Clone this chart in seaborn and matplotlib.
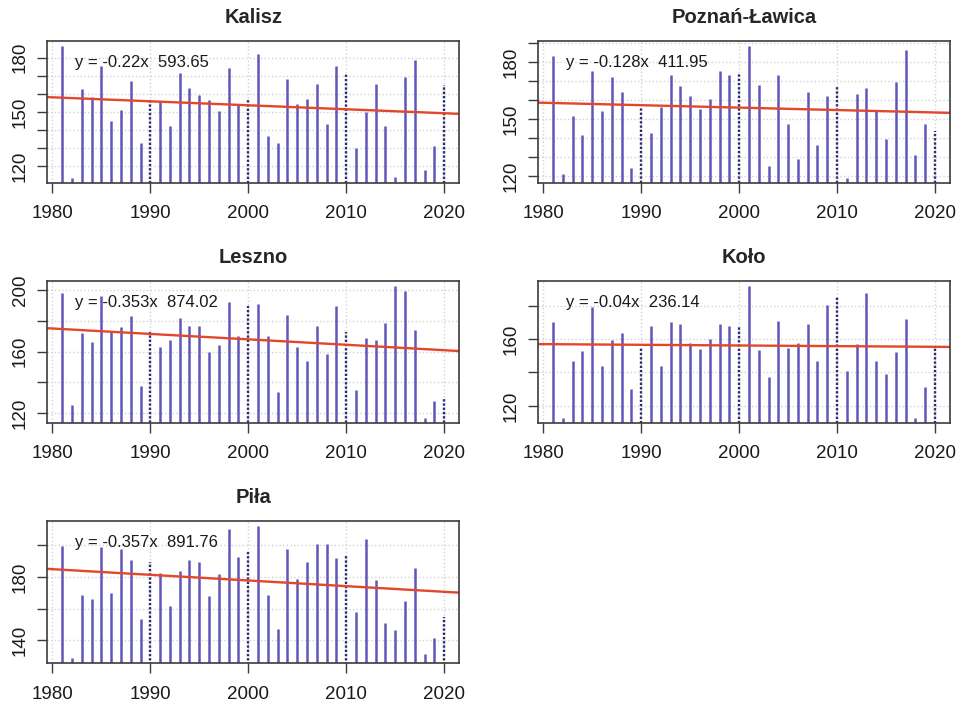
import numpy as np
import pandas as pd
import matplotlib.pyplot as plt
import seaborn as sns

# Yearly values, 1981-2020
years = list(range(1981, 2021))

stations = ['Kalisz', 'Poznań-Ławica', 'Leszno', 'Koło', 'Piła']

kalisz = [186.4, 113.7, 162.5, 158.1, 175.4, 145.2, 151.1, 167.3, 132.9, 157.2,
          155.3, 142.2, 171.5, 163.4, 159.2, 156.4, 150.5, 174.5, 154.2, 157.2,
          181.7, 136.5, 132.9, 168.4, 154.2, 157.3, 165.6, 143.2, 175.4, 171.5,
          130.1, 150.2, 165.6, 142.2, 113.9, 169.3, 178.5, 118.0, 131.0, 164.7]

poznan = [183.1, 121.0, 151.4, 141.5, 175.1, 154.4, 172.0, 164.3, 124.0, 155.8,
          142.7, 156.3, 173.0, 167.1, 162.1, 155.4, 160.3, 175.1, 173.0, 173.9,
          188.4, 168.1, 125.1, 173.0, 147.3, 129.1, 164.3, 136.2, 162.1, 167.3,
          119.1, 163.3, 166.2, 154.4, 139.3, 169.4, 186.3, 131.0, 147.3, 143.4]

leszno = [198.0, 125.1, 171.9, 166.0, 196.1, 173.1, 176.0, 182.9, 137.6, 172.7,
          162.9, 167.8, 181.8, 176.7, 176.7, 159.9, 164.2, 192.4, 170.0, 190.0,
          191.1, 170.0, 133.6, 184.0, 162.9, 154.2, 176.9, 158.4, 190.0, 172.7,
          135.1, 168.9, 167.3, 178.7, 202.6, 199.7, 174.2, 116.9, 128.2, 129.3]

kolo = [170.3, 112.8, 147.1, 153.0, 179.3, 144.1, 159.4, 163.4, 130.0, 154.4,
        168.0, 144.1, 170.3, 169.1, 157.8, 153.8, 160.0, 169.1, 168.0, 168.0,
        191.6, 153.2, 137.3, 170.5, 154.7, 157.8, 169.1, 147.1, 180.5, 185.1,
        140.6, 156.8, 187.6, 147.1, 139.2, 152.5, 172.0, 112.8, 131.3, 154.4]

pila = [199.4, 128.8, 168.8, 166.1, 198.7, 169.9, 197.5, 190.5, 153.5, 189.5,
        182.7, 161.7, 183.8, 190.5, 189.7, 167.8, 182.1, 210.5, 192.6, 196.8,
        211.8, 168.8, 147.4, 197.5, 178.9, 189.1, 200.8, 200.8, 192.0, 194.1,
        157.9, 203.8, 177.9, 151.2, 146.5, 164.6, 185.9, 131.4, 141.7, 154.7]

series = [kalisz, poznan, leszno, kolo, pila]

# trend lines as printed on the panels
slopes = [-0.22, -0.128, -0.353, -0.04, -0.357]
intercepts = [593.65, 411.95, 874.02, 236.14, 891.76]
equations = ['y = -0.22x  593.65', 'y = -0.128x  411.95', 'y = -0.353x  874.02',
             'y = -0.04x  236.14', 'y = -0.357x  891.76']

# y tick spacing and which ticks carry a label
tick_step = [10, 10, 20, 20, 20]
label_every = [3, 3, 2, 2, 2]

sns.set_theme(style='white')
plt.rcParams['font.family'] = ['Liberation Sans', 'DejaVu Sans']

bar_col = '#5f57bb'
dec_col = '#2c2c6e'
trend_col = '#e2472b'
frame_col = '#3c3c3c'

fig, axes = plt.subplots(3, 2, figsize=(9.57, 7.02), dpi=100)
fig.subplots_adjust(left=0.049, right=0.993, top=0.942, bottom=0.055,
                    wspace=0.19, hspace=0.69)
axes[2, 1].remove()

for i, ax in enumerate([axes[0, 0], axes[0, 1], axes[1, 0], axes[1, 1], axes[2, 0]]):
    df = pd.DataFrame({'year': years, 'value': series[i]})

    # R-style axis limits: data range widened by 4 %
    xr = df.year.max() - df.year.min()
    yr = df.value.max() - df.value.min()
    xlim = (df.year.min() - 0.04 * xr, df.year.max() + 0.04 * xr)
    ylim = (df.value.min() - 0.04 * yr, df.value.max() + 0.04 * yr)

    step = tick_step[i]
    yt = np.arange(np.ceil(ylim[0] / step) * step, ylim[1], step)
    ax.set_yticks(yt)
    ax.set_yticklabels([f'{t:.0f}' if k % label_every[i] == 0 else ''
                        for k, t in enumerate(yt)], rotation=90, va='center')
    ax.set_xticks([1980, 1990, 2000, 2010, 2020])

    ax.grid(True, color='#d2d2d2', linestyle=':', linewidth=1.0)
    ax.set_axisbelow(True)

    dec = df.year % 10 == 0
    ax.vlines(df.year[~dec], 0, df.value[~dec], color=bar_col, lw=1.8)
    ax.vlines(df.year[dec], 0, df.value[dec], color=dec_col, lw=1.7,
              linestyles=[(0, (1.0, 0.8))])

    xs = np.array(xlim)
    sns.lineplot(x=xs, y=slopes[i] * xs + intercepts[i], ax=ax,
                 color=trend_col, lw=1.7)

    ax.set_xlim(xlim)
    ax.set_ylim(ylim)

    ax.text(0.069, 0.85, equations[i], transform=ax.transAxes, fontsize=12,
            va='center', ha='left', color='#1a1a1a')
    ax.set_title(stations[i], fontweight='bold', fontsize=14.5, pad=13)
    ax.set_xlabel('')
    ax.set_ylabel('')

    for s in ax.spines.values():
        s.set_color(frame_col)
        s.set_linewidth(1.2)
    ax.tick_params(axis='both', direction='out', length=7, width=1.0,
                   color=frame_col, labelsize=13.5, labelcolor='#1a1a1a')
    ax.tick_params(axis='x', bottom=True, pad=9)
    ax.tick_params(axis='y', left=True, pad=6)

fig.savefig('out.png', dpi=100)
